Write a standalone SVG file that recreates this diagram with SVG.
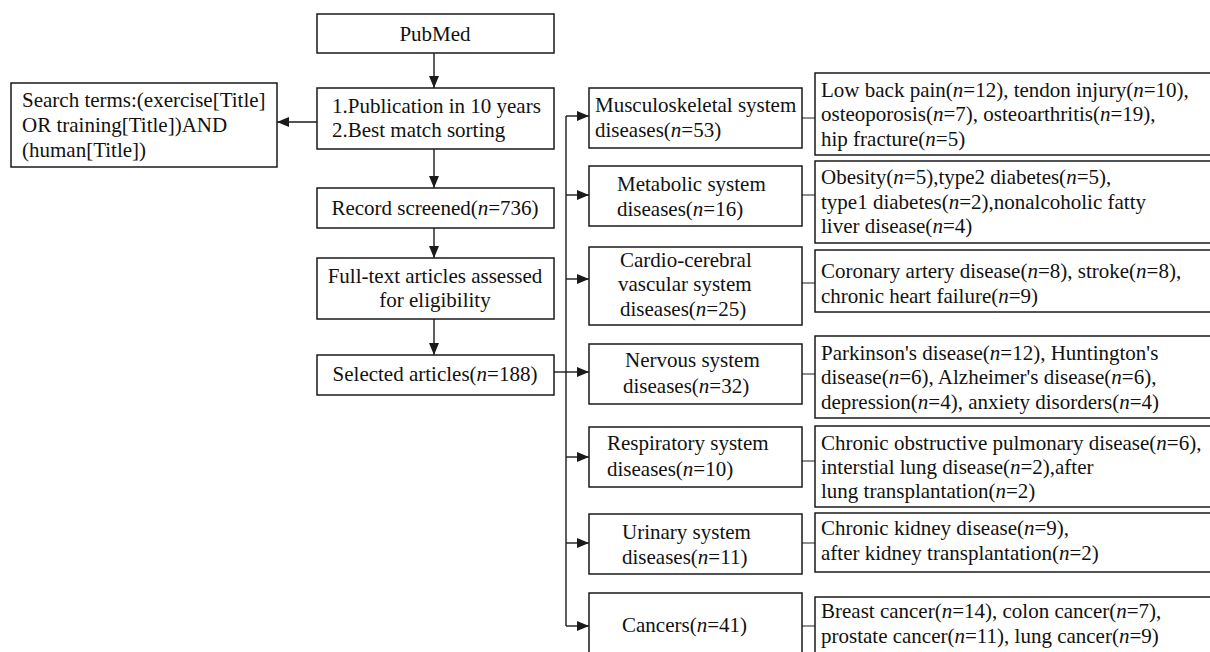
<svg xmlns="http://www.w3.org/2000/svg" width="1210" height="652" viewBox="0 0 1210 652">
<style>
.box{fill:#fff;stroke:#1a1a1a;stroke-width:1.5}
.t{font-family:"Liberation Serif","Times New Roman",serif;font-size:21px;fill:#111}
.c{text-anchor:middle}
.i{font-style:italic}
.ln{fill:none;stroke:#1a1a1a;stroke-width:1.4}
.thin{fill:none;stroke:#444;stroke-width:1.2}
</style>
<defs>
<marker id="ah" viewBox="0 0 12 10" refX="12" refY="5" markerWidth="12" markerHeight="10" markerUnits="userSpaceOnUse" orient="auto">
<path d="M0,0 L12,5 L0,10 Z" fill="#1a1a1a"/>
</marker>
</defs>
<rect width="1210" height="652" fill="#fff"/>

<g id="connectors">
<line class="ln" x1="434" y1="53" x2="434" y2="88" marker-end="url(#ah)"/>
<line class="ln" x1="317" y1="122" x2="277" y2="122" marker-end="url(#ah)"/>
<line class="ln" x1="434" y1="149" x2="434" y2="188" marker-end="url(#ah)"/>
<line class="ln" x1="434" y1="228" x2="434" y2="258" marker-end="url(#ah)"/>
<line class="ln" x1="434" y1="319" x2="434" y2="355" marker-end="url(#ah)"/>
<line class="ln" x1="553" y1="372" x2="566" y2="372"/>
<line class="ln" x1="566" y1="116" x2="566" y2="626"/>
<line class="ln" x1="566" y1="116" x2="589" y2="116" marker-end="url(#ah)"/>
<line class="ln" x1="566" y1="195" x2="589" y2="195" marker-end="url(#ah)"/>
<line class="ln" x1="566" y1="279" x2="589" y2="279" marker-end="url(#ah)"/>
<line class="ln" x1="566" y1="372" x2="589" y2="372" marker-end="url(#ah)"/>
<line class="ln" x1="566" y1="457" x2="589" y2="457" marker-end="url(#ah)"/>
<line class="ln" x1="566" y1="543" x2="589" y2="543" marker-end="url(#ah)"/>
<line class="ln" x1="566" y1="626" x2="589" y2="626" marker-end="url(#ah)"/>
<line class="thin" x1="802" y1="118" x2="815" y2="118"/>
<line class="thin" x1="802" y1="195" x2="815" y2="195"/>
<line class="thin" x1="802" y1="283" x2="815" y2="283"/>
<line class="thin" x1="802" y1="374" x2="815" y2="374"/>
<line class="thin" x1="802" y1="461" x2="815" y2="461"/>
<line class="thin" x1="802" y1="543" x2="815" y2="543"/>
<line class="thin" x1="802" y1="626" x2="815" y2="626"/>
</g>

<g id="pubmed">
<rect class="box" x="317" y="14" width="237" height="39"/>
<text class="t c" x="435" y="41">PubMed</text>
</g>
<g id="filters">
<rect class="box" x="317" y="88" width="237" height="61"/>
<text class="t" x="332" y="113">1.Publication in 10 years</text>
<text class="t" x="332" y="137">2.Best match sorting</text>
</g>
<g id="search">
<rect class="box" x="11" y="83" width="266" height="84"/>
<text class="t" x="22" y="107">Search terms:(exercise[Title]</text>
<text class="t" x="22" y="132">OR training[Title])AND</text>
<text class="t" x="22" y="157">(human[Title])</text>
</g>
<g id="screened">
<rect class="box" x="317" y="188" width="237" height="40"/>
<text class="t c" x="435" y="215">Record screened(<tspan class="i">n</tspan>=736)</text>
</g>
<g id="fulltext">
<rect class="box" x="317" y="258" width="237" height="61"/>
<text class="t c" x="435" y="283">Full-text articles assessed</text>
<text class="t c" x="435" y="307">for eligibility</text>
</g>
<g id="selected">
<rect class="box" x="317" y="355" width="237" height="40"/>
<text class="t c" x="435" y="381">Selected articles(<tspan class="i">n</tspan>=188)</text>
</g>

<g id="cat-musculoskeletal">
<rect class="box" x="589" y="88" width="213" height="60"/>
<text class="t" x="595" y="112">Musculoskeletal system</text>
<text class="t" x="595" y="137">diseases(<tspan class="i">n</tspan>=53)</text>
</g>
<g id="cat-metabolic">
<rect class="box" x="589" y="166" width="213" height="60"/>
<text class="t" x="617" y="191">Metabolic system</text>
<text class="t" x="617" y="216">diseases(<tspan class="i">n</tspan>=16)</text>
</g>
<g id="cat-cardio">
<rect class="box" x="589" y="247" width="213" height="78"/>
<text class="t" x="620" y="267">Cardio-cerebral</text>
<text class="t" x="618" y="291">vascular system</text>
<text class="t" x="620" y="316">diseases(<tspan class="i">n</tspan>=25)</text>
</g>
<g id="cat-nervous">
<rect class="box" x="589" y="344" width="213" height="60"/>
<text class="t" x="625" y="367">Nervous system</text>
<text class="t" x="623" y="393">diseases(<tspan class="i">n</tspan>=32)</text>
</g>
<g id="cat-respiratory">
<rect class="box" x="589" y="427" width="213" height="60"/>
<text class="t" x="607" y="450">Respiratory system</text>
<text class="t" x="607" y="476">diseases(<tspan class="i">n</tspan>=10)</text>
</g>
<g id="cat-urinary">
<rect class="box" x="589" y="514" width="213" height="60"/>
<text class="t" x="622" y="539">Urinary system</text>
<text class="t" x="622" y="564">diseases(<tspan class="i">n</tspan>=11)</text>
</g>
<g id="cat-cancers">
<rect class="box" x="589" y="593" width="213" height="70"/>
<text class="t" x="622" y="632">Cancers(<tspan class="i">n</tspan>=41)</text>
</g>

<g id="det-musculoskeletal">
<rect class="box" x="815" y="73" width="400" height="82"/>
<text class="t" x="821" y="97">Low back pain(<tspan class="i">n</tspan>=12), tendon injury(<tspan class="i">n</tspan>=10),</text>
<text class="t" x="821" y="121">osteoporosis(<tspan class="i">n</tspan>=7), osteoarthritis(<tspan class="i">n</tspan>=19),</text>
<text class="t" x="821" y="146">hip fracture(<tspan class="i">n</tspan>=5)</text>
</g>
<g id="det-metabolic">
<rect class="box" x="815" y="161" width="400" height="82"/>
<text class="t" x="821" y="184">Obesity(<tspan class="i">n</tspan>=5),type2 diabetes(<tspan class="i">n</tspan>=5),</text>
<text class="t" x="821" y="209">type1 diabetes(<tspan class="i">n</tspan>=2),nonalcoholic fatty</text>
<text class="t" x="821" y="233">liver disease(<tspan class="i">n</tspan>=4)</text>
</g>
<g id="det-cardio">
<rect class="box" x="815" y="250" width="400" height="62"/>
<text class="t" x="821" y="278">Coronary artery disease(<tspan class="i">n</tspan>=8), stroke(<tspan class="i">n</tspan>=8),</text>
<text class="t" x="821" y="303">chronic heart failure(<tspan class="i">n</tspan>=9)</text>
</g>
<g id="det-nervous">
<rect class="box" x="815" y="336" width="400" height="82"/>
<text class="t" x="821" y="360">Parkinson's disease(<tspan class="i">n</tspan>=12), Huntington's</text>
<text class="t" x="821" y="384">disease(<tspan class="i">n</tspan>=6), Alzheimer's disease(<tspan class="i">n</tspan>=6),</text>
<text class="t" x="821" y="409">depression(<tspan class="i">n</tspan>=4), anxiety disorders(<tspan class="i">n</tspan>=4)</text>
</g>
<g id="det-respiratory">
<rect class="box" x="815" y="426" width="400" height="81"/>
<text class="t" x="821" y="450">Chronic obstructive pulmonary disease(<tspan class="i">n</tspan>=6),</text>
<text class="t" x="821" y="474">interstial lung disease(<tspan class="i">n</tspan>=2),after</text>
<text class="t" x="821" y="498">lung transplantation(<tspan class="i">n</tspan>=2)</text>
</g>
<g id="det-urinary">
<rect class="box" x="815" y="513" width="400" height="59"/>
<text class="t" x="821" y="535">Chronic kidney disease(<tspan class="i">n</tspan>=9),</text>
<text class="t" x="821" y="560">after kidney transplantation(<tspan class="i">n</tspan>=2)</text>
</g>
<g id="det-cancers">
<rect class="box" x="815" y="597" width="400" height="70"/>
<text class="t" x="821" y="618">Breast cancer(<tspan class="i">n</tspan>=14), colon cancer(<tspan class="i">n</tspan>=7),</text>
<text class="t" x="821" y="643">prostate cancer(<tspan class="i">n</tspan>=11), lung cancer(<tspan class="i">n</tspan>=9)</text>
</g>
</svg>
